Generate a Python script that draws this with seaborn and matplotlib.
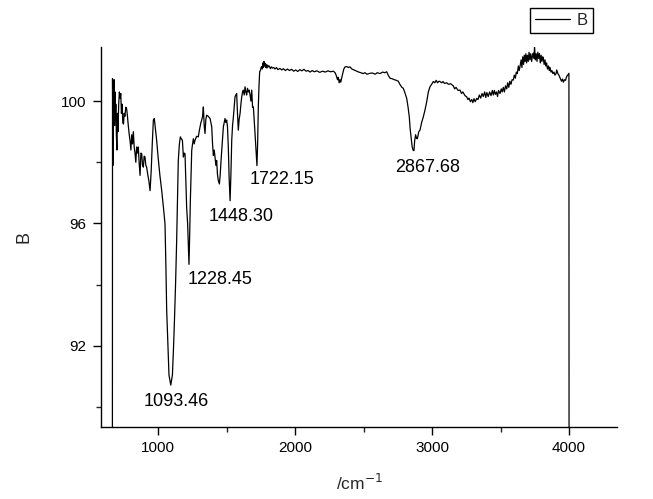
import matplotlib
matplotlib.use("Agg")
import matplotlib.pyplot as plt
import seaborn as sns
import pandas as pd
from matplotlib.ticker import FixedLocator

# FTIR spectrum
wavenumber = [
    667, 668, 671, 674, 677, 680, 683, 686, 689, 692, 696, 700, 704, 708, 713,
    718, 723, 728, 733, 738, 743, 748, 753, 758, 765, 771, 777, 783, 790, 796,
    802, 808, 814, 820, 826, 832, 838, 844, 850, 856, 862, 869, 875, 881, 887,
    893, 899, 905, 911, 917, 925, 933, 942, 950, 958, 966, 973, 981, 990, 1000,
    1013, 1027, 1040, 1051, 1058, 1063, 1072, 1080, 1093, 1105, 1112, 1119, 1128,
    1136, 1142, 1148, 1156, 1163, 1170, 1178, 1185, 1191, 1197, 1203, 1209, 1216,
    1221, 1226, 1230, 1236, 1242, 1246, 1252, 1258, 1264, 1270, 1282, 1294, 1300,
    1307, 1313, 1319, 1325, 1331, 1337, 1343, 1349, 1355, 1367, 1380, 1386, 1392,
    1398, 1404, 1410, 1416, 1422, 1428, 1434, 1440, 1448, 1454, 1460, 1468, 1477,
    1483, 1489, 1495, 1501, 1507, 1513, 1519, 1526, 1532, 1538, 1544, 1550, 1556,
    1562, 1568, 1574, 1580, 1586, 1592, 1599, 1605, 1611, 1617, 1623, 1629, 1635,
    1641, 1647, 1653, 1659, 1665, 1672, 1678, 1684, 1690, 1696, 1702, 1708, 1714,
    1722, 1727, 1732, 1737, 1742, 1748, 1752, 1757, 1761, 1765, 1769, 1773, 1777,
    1781, 1785, 1790, 1795, 1800, 1805, 1812, 1820, 1828, 1836, 1845, 1854, 1865,
    1875, 1890, 1903, 1915, 1930, 1945, 1960, 1975, 1990, 2005, 2020, 2035, 2050,
    2065, 2080, 2095, 2110, 2125, 2140, 2160, 2180, 2200, 2220, 2240, 2260, 2280,
    2292, 2300, 2310, 2316, 2322, 2328, 2334, 2340, 2348, 2356, 2365, 2377, 2390,
    2401, 2415, 2430, 2450, 2465, 2480, 2498, 2510, 2525, 2547, 2565, 2585, 2600,
    2620, 2640, 2655, 2669, 2680, 2693, 2710, 2725, 2740, 2754, 2765, 2780, 2790,
    2800, 2815, 2825, 2834, 2840, 2847, 2855, 2862, 2868, 2873, 2880, 2887, 2893,
    2903, 2912, 2924, 2936, 2948, 2961, 2973, 2985, 2997, 3009, 3020, 3030, 3040,
    3050, 3058, 3070, 3080, 3090, 3107, 3120, 3135, 3155, 3165, 3175, 3190, 3204,
    3215, 3225, 3240, 3253, 3262, 3270, 3280, 3290, 3298, 3306, 3315, 3326, 3335,
    3345, 3355, 3365, 3374, 3384, 3392, 3400, 3410, 3420, 3430, 3440, 3447, 3455,
    3462, 3470, 3478, 3485, 3496, 3505, 3512, 3520, 3528, 3536, 3545, 3552, 3560,
    3568, 3576, 3584, 3593, 3600, 3608, 3615, 3622, 3630, 3636, 3642, 3650, 3656,
    3662, 3668, 3674, 3679, 3685, 3690, 3696, 3702, 3708, 3714, 3720, 3727, 3733,
    3739, 3744, 3748, 3754, 3760, 3766, 3772, 3778, 3784, 3790, 3796, 3802, 3808,
    3812, 3818, 3824, 3830, 3836, 3842, 3850, 3856, 3861, 3868, 3875, 3882, 3890,
    3897, 3905, 3910, 3918, 3926, 3935, 3945, 3952, 3959, 3966, 3974, 3982, 3990,
    3999, 4000,
]
transmittance = [
    88.0, 100.74, 97.9, 100.55, 99.5, 100.7, 99.2, 100.3, 99.4, 99.9, 98.9, 98.4,
    99.6, 99.0, 99.9, 100.3, 100.1, 100.25, 99.6, 99.9, 99.3, 99.25, 99.6, 99.5,
    99.8, 99.75, 99.5, 99.2, 98.9, 98.7, 98.4, 98.9, 98.6, 99.0, 98.5, 98.3, 98.0,
    98.5, 98.3, 98.5, 98.0, 97.57, 98.3, 98.28, 97.9, 97.84, 98.2, 98.17, 97.9,
    97.84, 97.6, 97.4, 97.07, 97.7, 98.6, 99.38, 99.43, 99.1, 98.72, 98.2, 97.6,
    97.07, 96.5, 95.98, 94.5, 93.2, 92.0, 91.04, 90.71, 91.04, 91.8, 92.69, 94.0,
    95.43, 96.8, 98.06, 98.6, 98.83, 98.77, 98.72, 98.17, 98.3, 98.28, 97.4, 96.52,
    96.0, 95.3, 94.66, 95.4, 96.74, 97.8, 98.39, 98.6, 98.77, 98.6, 98.72, 98.85,
    98.83, 99.0, 99.16, 99.3, 99.38, 99.5, 99.81, 99.2, 98.94, 99.4, 99.54, 99.5,
    99.43, 99.3, 99.16, 98.6, 98.22, 98.4, 98.17, 97.9, 98.06, 97.6, 97.4, 97.29,
    97.6, 98.06, 98.6, 99.16, 99.3, 99.43, 99.3, 99.38, 99.16, 98.5, 97.5, 96.74,
    97.6, 98.72, 99.2, 99.48, 99.8, 100.14, 100.2, 100.25, 99.6, 99.05, 99.4, 99.6,
    99.9, 100.14, 100.3, 100.36, 100.2, 100.47, 100.3, 100.2, 100.42, 100.3, 100.36,
    100.2, 100.0, 100.36, 99.8, 99.81, 99.4, 98.94, 98.5, 97.89, 98.6, 99.81, 100.5,
    100.97, 101.0, 101.1, 101.13, 101.05, 101.25, 101.1, 101.3, 101.15, 101.24,
    101.1, 101.2, 101.08, 101.18, 101.12, 101.15, 101.06, 101.12, 101.08, 101.1,
    101.05, 101.1, 101.03, 101.07, 101.02, 101.06, 101.0, 101.05, 101.0, 101.04,
    100.98, 101.02, 100.97, 101.03, 100.99, 101.04, 100.98, 101.0, 100.95, 101.0,
    100.96, 100.99, 100.94, 100.98, 100.95, 100.99, 100.96, 100.98, 100.93, 100.85,
    100.7, 100.78, 100.6, 100.7, 100.62, 100.75, 100.9, 101.05, 101.12, 101.13,
    101.1, 101.12, 101.05, 101.02, 100.98, 100.95, 100.93, 100.9, 100.93, 100.88,
    100.91, 100.92, 100.88, 100.93, 100.9, 100.95, 100.93, 100.96, 100.85, 100.75,
    100.73, 100.7, 100.68, 100.65, 100.55, 100.45, 100.42, 100.3, 100.09, 99.8,
    99.48, 99.1, 98.83, 98.5, 98.39, 98.38, 98.7, 98.9, 98.78, 98.77, 99.0, 99.05,
    99.3, 99.48, 99.7, 99.98, 100.3, 100.47, 100.55, 100.64, 100.6, 100.68, 100.6,
    100.65, 100.64, 100.6, 100.64, 100.58, 100.6, 100.55, 100.57, 100.5, 100.4,
    100.45, 100.35, 100.36, 100.25, 100.3, 100.18, 100.14, 100.05, 100.1, 99.98,
    100.05, 99.95, 100.08, 99.98, 100.09, 100.05, 100.2, 100.1, 100.25, 100.15,
    100.3, 100.12, 100.28, 100.15, 100.3, 100.18, 100.35, 100.2, 100.35, 100.22,
    100.3, 100.15, 100.35, 100.25, 100.4, 100.3, 100.45, 100.3, 100.5, 100.4,
    100.6, 100.45, 100.65, 100.55, 100.7, 100.69, 100.85, 100.75, 100.95, 100.9,
    101.15, 101.0, 101.13, 101.35, 101.1, 101.45, 101.2, 101.5, 101.3, 101.55,
    101.25, 101.5, 101.3, 101.6, 101.35, 101.55, 101.3, 101.5, 101.57, 101.4,
    101.79, 101.35, 101.55, 101.3, 101.6, 101.4, 101.55, 101.25, 101.5, 101.3,
    101.45, 101.4, 101.2, 101.35, 101.15, 101.25, 101.05, 101.15, 101.0, 101.1,
    100.95, 101.0, 100.9, 100.95, 100.85, 100.9, 101.02, 100.9, 100.85, 100.75,
    100.65, 100.72, 100.62, 100.7, 100.68, 100.8, 100.85, 100.91, 88.0,
]

# peak labels and where they sit (data coords)
peak_labels = ["1093.46", "1228.45", "1448.30", "1722.15", "2867.68"]
label_x = [1131, 1453, 1606, 1905, 2971]
label_y = [90.19, 94.15, 96.24, 97.45, 97.84]

df = pd.DataFrame({"wavenumber": wavenumber, "B": transmittance})

sns.set_style("ticks")
plt.rcParams["font.family"] = ["Liberation Sans", "DejaVu Sans"]

fig = plt.figure(figsize=(6.53, 4.99), dpi=100)
ax = fig.add_axes([0.1547, 0.1443, 0.7902, 0.7621])

sns.lineplot(data=df, x="wavenumber", y="B", ax=ax, color="black",
             linewidth=0.9, estimator=None, sort=False, label="B")

for txt, tx, ty in zip(peak_labels, label_x, label_y):
    ax.text(tx, ty, txt, ha="center", va="center", fontsize=13, color="black")

ax.set_xlim(584, 4350)
ax.set_ylim(89.34, 101.78)
ax.xaxis.set_major_locator(FixedLocator([1000, 2000, 3000, 4000]))
ax.xaxis.set_minor_locator(FixedLocator([1500, 2500, 3500]))
ax.yaxis.set_major_locator(FixedLocator([92, 96, 100]))
ax.yaxis.set_minor_locator(FixedLocator([90, 94, 98]))
ax.tick_params(which="major", direction="out", length=5.8, width=1,
               labelsize=11, colors="black")
ax.tick_params(which="minor", direction="out", length=3.6, width=1)
ax.tick_params(axis="x", which="major", pad=4)
ax.tick_params(axis="y", which="major", pad=5)

sns.despine(ax=ax)
for s in ["left", "bottom"]:
    ax.spines[s].set_linewidth(1.0)
    ax.spines[s].set_color("black")

ax.set_xlabel("/cm$^{-1}$", fontsize=12.5)
ax.set_ylabel("B", fontsize=13)
ax.xaxis.set_label_coords(0.5, -0.12)
ax.yaxis.set_label_coords(-0.132, 0.5)

leg = ax.legend(loc="upper right", bbox_to_anchor=(593 / 653, 1 - 8 / 499),
                bbox_transform=fig.transFigure, fancybox=False, framealpha=1,
                edgecolor="black", fontsize=12, handlelength=2.1,
                handletextpad=0.4, borderpad=0.3, borderaxespad=0)
leg.get_frame().set_linewidth(1.0)

fig.savefig("out.png", dpi=100)
plt.close(fig)
